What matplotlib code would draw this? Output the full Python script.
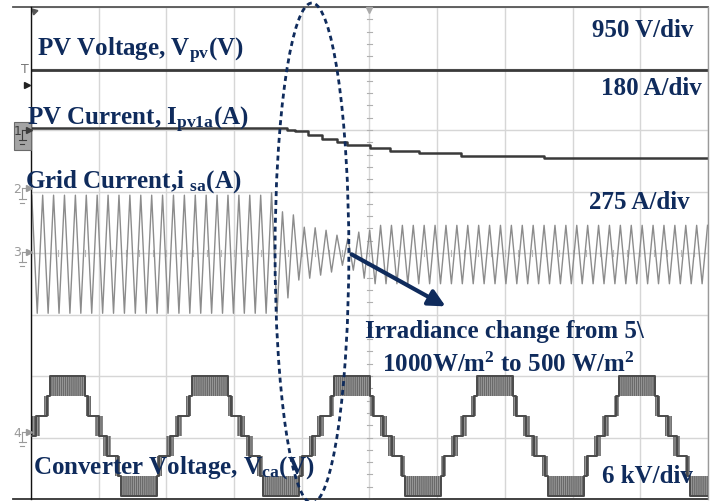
#!/usr/bin/env python3
"""
示波器截图重绘：PV 电压/电流、电网电流、变流器电压
屏幕 10 x 8 格，所有数值以“格”为单位，从原图读取
"""
import numpy as np
import matplotlib.pyplot as plt
from matplotlib.patches import Ellipse, Rectangle

plt.rcParams['font.family'] = ['Liberation Serif', 'DejaVu Serif']
plt.rcParams['font.weight'] = 'bold'
plt.rcParams['mathtext.fontset'] = 'custom'
plt.rcParams['mathtext.rm'] = 'Liberation Serif:bold'
plt.rcParams['mathtext.it'] = 'Liberation Serif:bold'
plt.rcParams['mathtext.bf'] = 'Liberation Serif:bold'
plt.rcParams['hatch.linewidth'] = 1.0
plt.rcParams['hatch.color'] = '#6a6a6a'

# ---- 数据 (单位: 格) ----
# PV 电压：一条水平线
vpv_t = [0.0, 10.0]
vpv = [6.98, 6.98]

# PV 电流：辐照度变化后阶梯下降 (steps-post)
ipv_t = [0.0, 3.78, 3.90, 4.09, 4.30, 4.52, 4.67, 5.01, 5.30, 5.73, 6.35, 7.58, 10.0]
ipv = [6.03, 6.00, 5.98, 5.92, 5.86, 5.81, 5.75, 5.70, 5.66, 5.62, 5.58, 5.54, 5.54]

# 电网电流：每个周期的 (谷, 峰) 读数
isa_first_peak = 0.0115
isa_half_period = 0.0805
isa_pre = [3.02, 4.94] * 21
isa_change = [3.02, 4.98, 3.02, 4.67, 3.27, 4.62, 3.56, 4.42, 3.59, 4.41,
              3.64, 4.37, 3.69, 4.29, 3.80, 4.24, 3.72, 4.34, 3.59, 4.37]
isa_post = [3.50, 4.45] * 31

# 变流器电压：七电平阶梯波
vca_peak_t = [0.54, 2.64, 4.74, 6.85, 8.95]
vca_trough_t = [-0.51, 1.59, 3.69, 5.79, 7.90, 10.00]
vca_zero = 1.025
vca_step = 0.325
# 各过渡带 (3<->2, 2<->1, 1<->0) 距峰/谷的内外边界
vca_band_in = [0.0, 0.27, 0.41]
vca_band_out = [0.265, 0.345, 0.52]

navy = '#0f2b5c'
trace_dark = '#3a3a3a'
trace_gray = '#8c8c8c'
marker_gray = '#9a9a9a'

fig = plt.figure(figsize=(7.17, 5.01), dpi=100)
ax = fig.add_axes([31 / 717, 2 / 501, 677 / 717, 492 / 501])
ax.set_xlim(0, 10)
ax.set_ylim(0, 8)

# 网格
ax.set_xticks(range(11))
ax.set_yticks(range(9))
ax.grid(True, color='#d6d6d6', lw=1.0)
ax.tick_params(length=0, labelbottom=False, labelleft=False)
ax.set_axisbelow(True)
for side in ['top', 'bottom']:
    ax.spines[side].set_visible(False)
ax.spines['left'].set_color('#111111')
ax.spines['left'].set_linewidth(1.0)
ax.spines['right'].set_color('#9a9a9a')
ax.spines['right'].set_linewidth(1.0)
for yb in [0, 1]:
    ax.plot([-0.027, 1.0], [yb, yb], transform=ax.transAxes, clip_on=False,
            color='#555555' if yb else '#333333', lw=1.3)

# 中心十字刻度
for yy in np.arange(0, 8.01, 0.2):
    ax.plot([4.96, 5.04], [yy, yy], color='#b0b0b0', lw=0.8)
for xx in np.arange(0, 10.01, 0.2):
    ax.plot([xx, xx], [3.95, 4.05], color='#b8b8b8', lw=0.8)

# PV 电压 / 电流
ax.plot(vpv_t, vpv, color=trace_dark, lw=2.0)
ax.plot(ipv_t, ipv, color=trace_dark, lw=1.8, drawstyle='steps-post')

# 电网电流
isa = [4.94] + isa_pre + isa_change + isa_post
isa_t = isa_first_peak + isa_half_period * np.arange(len(isa))
ax.plot(isa_t, isa, color=trace_gray, lw=1.0)

# 变流器电压
def lvl(n):
    return vca_zero + vca_step * n

extrema = [(t, 1) for t in vca_peak_t] + [(t, -1) for t in vca_trough_t]
extrema.sort()
events = []
mids = [vca_band_out[0],
        (vca_band_in[1] + vca_band_out[1]) / 2,
        (vca_band_in[2] + vca_band_out[2]) / 2]
for te, s in extrema:
    for k in range(3):
        hi, lo = 3 - k, 2 - k
        for side in (-1, 1):
            a = te + side * vca_band_in[k]
            b = te + side * vca_band_out[k]
            ax.fill_between([min(a, b), max(a, b)], lvl(s * lo), lvl(s * hi),
                            facecolor='#a9a9a9', edgecolor='#6a6a6a',
                            hatch='||||||||', lw=0, zorder=2)
    events.append((te - mids[2], s * 1))
    events.append((te - mids[1], s * 2))
    events.append((te - mids[0], s * 3))
    events.append((te + mids[0], s * 2))
    events.append((te + mids[1], s * 1))
    events.append((te + mids[2], 0))
events.sort()
st = [-0.6] + [e[0] for e in events] + [10.6]
sv = [lvl(0)] + [lvl(e[1]) for e in events] + [lvl(events[-1][1])]
ax.plot(st, sv, color='#4a4a4a', lw=1.4, drawstyle='steps-post', zorder=3)

# 文字
fs = 18
ax.text(0.09, 7.20, r'PV Voltage, V$_{\mathrm{pv}}$(V)', color=navy, fontsize=fs,
        fontweight='bold', va='baseline', ha='left', zorder=5)
ax.text(9.78, 7.51, '950 V/div', color=navy, fontsize=fs, fontweight='bold',
        va='baseline', ha='right', zorder=5)
ax.text(9.91, 6.57, '180 A/div', color=navy, fontsize=fs, fontweight='bold',
        va='baseline', ha='right', zorder=5)
ax.text(-0.06, 6.08, r'PV Current, I$_{\mathrm{pv1a}}$(A)', color=navy, fontsize=fs,
        fontweight='bold', va='baseline', ha='left', zorder=5)
ax.text(-0.09, 5.07, r'Grid Current,i $_{\mathrm{sa}}$(A)', color=navy, fontsize=fs,
        fontweight='bold', va='baseline', ha='left', zorder=5)
ax.text(9.73, 4.72, '275 A/div', color=navy, fontsize=fs, fontweight='bold',
        va='baseline', ha='right', zorder=5)
ax.text(4.93, 2.62, 'Irradiance change from 5\\', color=navy, fontsize=fs,
        fontweight='bold', va='baseline', ha='left', zorder=5)
ax.text(5.18, 2.07, r'1000W/m$^{2}$ to 500 W/m$^{2}$', color=navy, fontsize=fs,
        fontweight='bold', va='baseline', ha='left', zorder=5)
ax.text(0.03, 0.42, r'Converter Voltage, V$_{\mathrm{ca}}$(V)', color=navy, fontsize=fs,
        fontweight='bold', va='baseline', ha='left', zorder=5)
ax.text(8.43, 0.26, '6 kV/div', color=navy, fontsize=fs, fontweight='bold',
        va='baseline', ha='left', zorder=5)

# 箭头和虚线椭圆
ax.annotate('', xy=(6.16, 3.11), xytext=(4.70, 4.00),
            arrowprops=dict(arrowstyle='-|>', color=navy, lw=3.0, mutation_scale=25),
            zorder=6)
ax.add_patch(Ellipse((4.15, 4.0), 1.09, 8.13, fill=False, edgecolor=navy, lw=2.0,
                     linestyle=(0, (1.8, 1.4)), clip_on=False, zorder=6))

# 左侧通道标记
ax.add_patch(Rectangle((-0.25, 5.68), 0.25, 0.45, transform=ax.transData,
                       facecolor='#a4a4a4', edgecolor='#6a6a6a', lw=0.8,
                       clip_on=False, zorder=4))
for ch, y in [('1', 5.98), ('2', 5.03), ('3', 4.0), ('4', 1.07)]:
    c = '#3c3c3c' if ch == '1' else marker_gray
    ax.text(-0.2, y, ch, color=c, fontsize=9, fontweight='normal', family='DejaVu Sans',
            ha='center', va='center', clip_on=False, zorder=5)
    ax.plot([-0.13, -0.13], [y - 0.15, y + 0.02], color=c, lw=0.8, clip_on=False, zorder=5)
    ax.plot([-0.18, -0.08], [y - 0.15, y - 0.15], color=c, lw=0.8, clip_on=False, zorder=5)
    ax.plot([-0.16, -0.10], [y - 0.21, y - 0.21], color=c, lw=0.8, clip_on=False, zorder=5)
    ax.plot([-0.13, -0.03], [y + 0.02, y + 0.02], color=c, lw=0.8, clip_on=False, zorder=5)
    ax.plot([-0.03], [y + 0.02], marker='>', ms=4, color=c, clip_on=False, zorder=5)
ax.text(-0.09, 6.98, 'T', color='#777777', fontsize=9, fontweight='normal',
        family='DejaVu Sans', ha='center', va='center')
ax.plot([-0.06], [6.73], marker='>', ms=5, color='#222222', clip_on=False)
ax.plot([5.0], [7.95], marker='v', ms=5, color='#aaaaaa', clip_on=False)
ax.plot([0.05], [7.93], marker=(3, 0, 45), ms=5, color='#555555', clip_on=False)

plt.savefig('out.png', dpi=100)
plt.close()
